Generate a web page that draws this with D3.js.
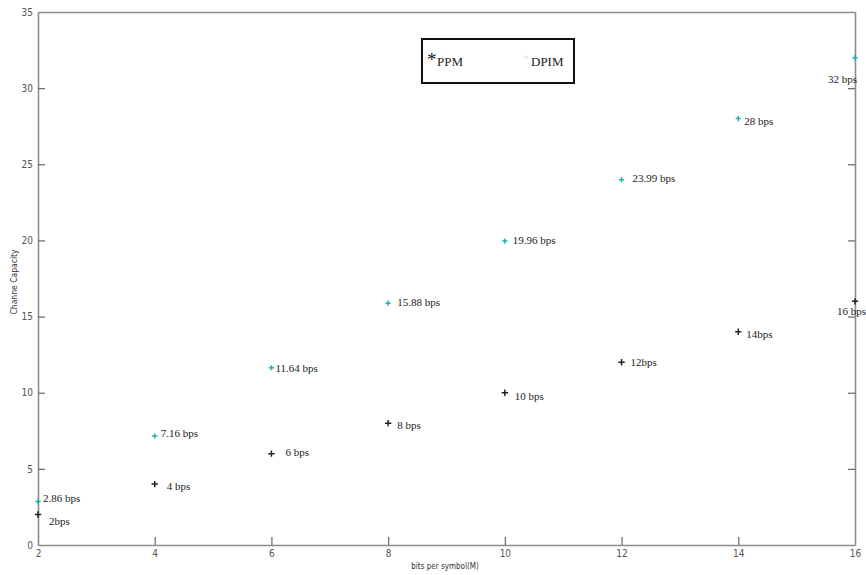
<!DOCTYPE html>
<html>
<head>
<meta charset="utf-8">
<script src="https://cdn.jsdelivr.net/npm/d3@7"></script>
<style>
  body { margin: 0; background: #fff; }
  svg { display: block; }
</style>
</head>
<body>
<svg id="chart" width="866" height="575"></svg>
<script>
// Bits per symbol (M)
const bitsPerSymbol = [2, 4, 6, 8, 10, 12, 14, 16];
// Channel capacity, PPM series (teal)
const ppmCapacity = [2.86, 7.16, 11.64, 15.88, 19.96, 23.99, 28, 32];
// Channel capacity, DPIM series (black)
const dpimCapacity = [2, 4, 6, 8, 10, 12, 14, 16];
// Point annotations
const ppmLabels = ["2.86 bps", "7.16 bps", "11.64 bps", "15.88 bps", "19.96 bps", "23.99 bps", "28 bps", "32 bps"];
const dpimLabels = ["2bps", "4 bps", "6 bps", "8 bps", "10 bps", "12bps", "14bps", "16 bps"];
// Axis ticks
const xTicks = [2, 4, 6, 8, 10, 12, 14, 16];
const yTicks = [0, 5, 10, 15, 20, 25, 30, 35];

// Label placement nudges (pixels from the marker)
const ppmNudge = [[5, 1], [6, 1], [4, 4], [9, 3], [8, 3], [11, 2], [6, 6], [-27, 25]];
const dpimNudge = [[11, 10], [12, 6], [14, 2], [9, 6], [10, 7], [9, 4], [8, 6], [-18, 14]];

const svg = d3.select("#chart");
const m = { left: 38, right: 11, top: 12, bottom: 30 };
const W = 866, H = 575;
const x = d3.scaleLinear().domain([2, 16]).range([m.left, W - m.right]);
const y = d3.scaleLinear().domain([0, 35]).range([H - m.bottom, m.top]);

const axisColor = "#8c8c8c";
const tickFont = "'Liberation Sans Narrow', 'DejaVu Sans Condensed', Arial, sans-serif";

// Bottom axis, ticks pointing inward
const gx = svg.append("g").attr("transform", `translate(0,${y(0)})`)
  .call(d3.axisBottom(x).tickValues(xTicks).tickSizeInner(-8).tickSizeOuter(0).tickPadding(10));
// Left axis, ticks pointing inward
const gy = svg.append("g").attr("transform", `translate(${x(2)},0)`)
  .call(d3.axisLeft(y).tickValues(yTicks).tickSizeInner(-7).tickSizeOuter(0).tickPadding(5));
// Top and right frame
const gt = svg.append("g").attr("transform", `translate(0,${y(35)})`)
  .call(d3.axisTop(x).tickValues(xTicks).tickSizeInner(0).tickSizeOuter(0).tickFormat(""));
const gr = svg.append("g").attr("transform", `translate(${x(16)},0)`)
  .call(d3.axisRight(y).tickValues(yTicks).tickSizeInner(-7).tickSizeOuter(0).tickFormat(""));

[gx, gy, gt, gr].forEach(g => {
  g.select(".domain").attr("stroke", axisColor).attr("stroke-width", 1.6);
  g.selectAll(".tick line").attr("stroke", "#666").attr("stroke-width", 1.2);
  g.selectAll(".tick text").attr("fill", "#555").style("font-family", tickFont).style("font-size", "10px");
});
gx.selectAll(".tick text").attr("dy", "0.2em");
// edge ticks coincide with the frame
gx.selectAll(".tick line").filter(d => d === 2 || d === 16).remove();
gy.selectAll(".tick line").filter(d => d === 0 || d === 35).remove();
gr.selectAll(".tick line").filter(d => d === 0 || d === 35).remove();

// Axis titles
svg.append("text")
  .attr("x", 445).attr("y", 569)
  .attr("text-anchor", "middle")
  .style("font-family", "'DejaVu Sans Condensed', Arial, sans-serif")
  .style("font-size", "8px").attr("fill", "#333")
  .text("bits per symbol(M)");
svg.append("text")
  .attr("transform", "translate(17,282) rotate(-90)")
  .attr("text-anchor", "middle")
  .style("font-family", "'DejaVu Sans Condensed', Arial, sans-serif")
  .style("font-size", "8.5px").attr("fill", "#333")
  .text("Channe Capacity");

// Plus-shaped marker
function marker(g, cx, cy, r, color, w) {
  g.append("path")
    .attr("d", `M${cx - r},${cy}H${cx + r}M${cx},${cy - r}V${cy + r}`)
    .attr("stroke", color).attr("stroke-width", w).attr("fill", "none");
}

const labelFont = "'Liberation Serif', 'Times New Roman', serif";
const plot = svg.append("g");

function drawSeries(values, labels, nudge, color, r, w) {
  values.forEach((v, i) => {
    const cx = x(bitsPerSymbol[i]), cy = y(v);
    marker(plot, cx, cy, r, color, w);
    plot.append("text")
      .attr("x", cx + nudge[i][0]).attr("y", cy + nudge[i][1])
      .style("font-family", labelFont).style("font-size", "11px")
      .attr("fill", "#222")
      .text(labels[i]);
  });
}
drawSeries(dpimCapacity, dpimLabels, dpimNudge, "#222", 3.2, 1.5);
drawSeries(ppmCapacity, ppmLabels, ppmNudge, "#1fb3b0", 2.6, 1.5);

// Legend
const lg = svg.append("g");
lg.append("rect").attr("x", 422).attr("y", 39).attr("width", 152).attr("height", 44)
  .attr("fill", "#fff").attr("stroke", "#111").attr("stroke-width", 2);
lg.append("text").attr("x", 427).attr("y", 66)
  .style("font-family", labelFont).style("font-size", "19px").attr("fill", "#111").text("*");
lg.append("text").attr("x", 437).attr("y", 66)
  .style("font-family", labelFont).style("font-size", "13px").attr("fill", "#222").text("PPM");
lg.append("text").attr("x", 523).attr("y", 62)
  .style("font-family", labelFont).style("font-size", "11px").attr("fill", "#e2e2e2").text("*");
lg.append("text").attr("x", 531).attr("y", 66)
  .style("font-family", labelFont).style("font-size", "13px").attr("fill", "#222").text("DPIM");
</script>
</body>
</html>
